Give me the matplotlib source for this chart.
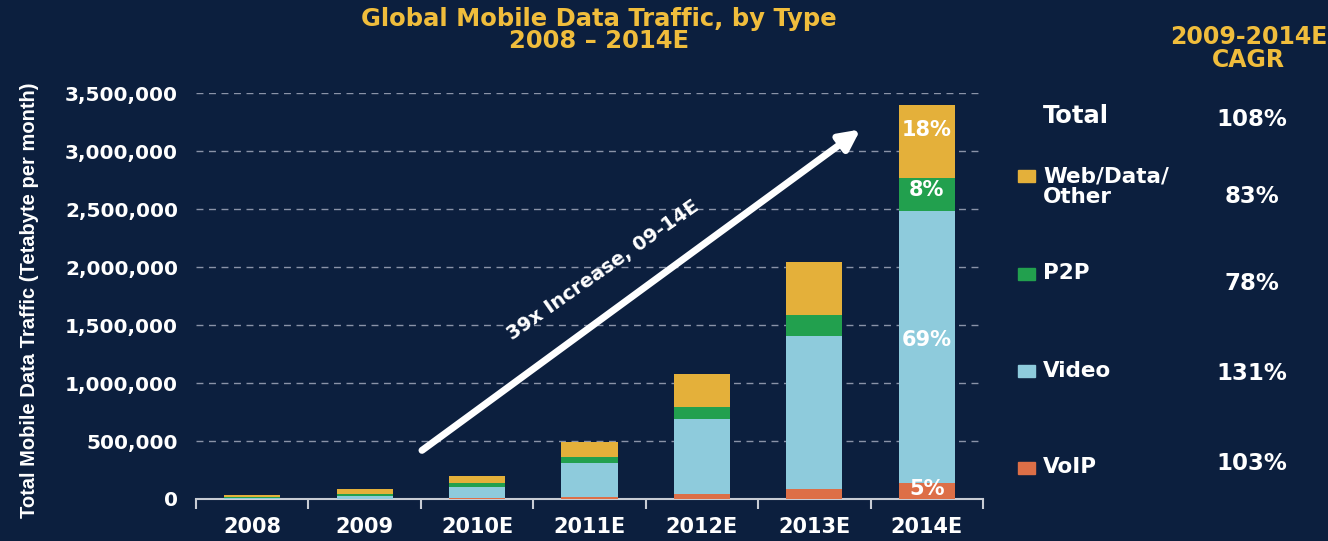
"""Global Mobile Data Traffic, by Type 2008 - 2014E"""
import numpy as np
import matplotlib.pyplot as plt
from matplotlib.ticker import FuncFormatter

plt.rcParams['font.family'] = ['DejaVu Sans']
plt.rcParams['font.weight'] = 'bold'

years = ["2008", "2009", "2010E", "2011E", "2012E", "2013E", "2014E"]
voip = [1000, 2000, 6000, 15000, 40000, 86000, 140000]
video = [8000, 24000, 97000, 295000, 650000, 1319000, 2345000]
p2p = [8000, 17000, 35000, 52000, 103000, 181000, 284000]
web = [15000, 43000, 60000, 129000, 285000, 457000, 630000]

shares_2014 = ["5%", "69%", "8%", "18%"]
legend_names = ["Web/Data/\nOther", "P2P", "Video", "VoIP"]
cagr_total = "108%"
cagr = ["83%", "78%", "131%", "103%"]

bg = "#0c1f3e"
c_web, c_p2p, c_video, c_voip = "#e4b03a", "#22a04e", "#8ecbdc", "#dd6f47"
gold = "#f0bd3c"

fig = plt.figure(figsize=(13.28, 5.41), dpi=100, facecolor=bg)
ax = fig.add_axes([196/1328, 1 - 499/541, (983-196)/1328, (499-93)/541])
ax.set_facecolor(bg)

x = np.arange(len(years))
series = [(voip, c_voip), (video, c_video), (p2p, c_p2p), (web, c_web)]
bottom = np.zeros(len(years))
for vals, col in series:
    ax.bar(x, vals, 0.5, bottom=bottom, color=col, zorder=3)
    bottom += np.array(vals)

# percentages in the last bar
label_frac = {"5%": 0.6, "69%": 0.525, "8%": 0.62, "18%": 0.65}
b = 0
for vals, lab in zip([voip, video, p2p, web], shares_2014):
    v = vals[-1]
    ax.text(x[-1], b + v * label_frac[lab], lab, color="white", fontsize=15,
            ha="center", va="center", zorder=4)
    b += v

ax.set_xlim(-0.5, len(years) - 0.5)
ax.set_ylim(0, 3500000)
ax.set_yticks(np.arange(0, 3500001, 500000))
ax.yaxis.set_major_formatter(FuncFormatter(lambda v, p: f"{int(v):,}"))
ax.grid(axis="y", color="#8a93a8", linestyle=(0, (5, 4)), linewidth=1, zorder=1)
for s in ["top", "right", "left"]:
    ax.spines[s].set_visible(False)
ax.spines["bottom"].set_color("#c8ccd4")
ax.spines["bottom"].set_linewidth(1.5)
ax.tick_params(axis="y", length=0, colors="white", labelsize=14.5, pad=13)
ax.set_xticks(x)
ax.set_xticklabels(years)
ax.tick_params(axis="x", length=0, colors="white", labelsize=15, pad=13)
ax.set_xticks(np.arange(-0.5, len(years), 1), minor=True)
ax.tick_params(axis="x", which="minor", length=7, width=1.5, color="#c8ccd4")

ax.set_ylabel("Total Mobile Data Traffic (Tetabyte per month)", color="white",
              fontsize=14.5, fontweight="bold", family=["Liberation Sans"])
ax.yaxis.set_label_coords(-0.2, 0.49)

# growth arrow
ax.annotate("", xy=(5.43, 3200000), xytext=(1.49, 405000),
            arrowprops=dict(arrowstyle="-|>,head_length=1.2,head_width=0.6",
                            color="white", lw=5), zorder=5)
ax.text(3.12, 1974000, "39x Increase, 09-14E", color="white", fontsize=14,
        rotation=35, ha="center", va="center", rotation_mode="anchor", zorder=5)

fig.text(0.451, 0.965, "Global Mobile Data Traffic, by Type", color=gold,
         fontsize=17.5, ha="center", va="center")
fig.text(0.451, 0.925, "2008 \u2013 2014E", color=gold, fontsize=17.5, ha="center", va="center")
fig.text(0.940, 0.911, "2009-2014E\nCAGR", color=gold, fontsize=17, ha="center",
         va="center", linespacing=0.95)

# right-hand legend with CAGR values
fig.text(1043/1328, 1 - 116/541, "Total", color="white", fontsize=17.5, ha="left", va="center")
fig.text(1252/1328, 1 - 120/541, cagr_total, color="white", fontsize=16.5, ha="center", va="center")
leg_y = [187, 273, 371, 467]
sq_y = [176, 274, 371, 468]
val_y = [197, 284, 373, 464]
for name, col, ly, sy, val, vy in zip(legend_names, [c_web, c_p2p, c_video, c_voip],
                                      leg_y, sq_y, cagr, val_y):
    fig.patches.append(plt.Rectangle((1018/1328, 1 - (sy + 6)/541), 17/1328, 12/541,
                                     transform=fig.transFigure, color=col, figure=fig))
    fig.text(1043/1328, 1 - ly/541, name, color="white", fontsize=15.5, ha="left",
             va="center", linespacing=1.0)
    fig.text(1252/1328, 1 - vy/541, val, color="white", fontsize=16.5, ha="center", va="center")

fig.savefig("out.png", dpi=100, facecolor=bg)
